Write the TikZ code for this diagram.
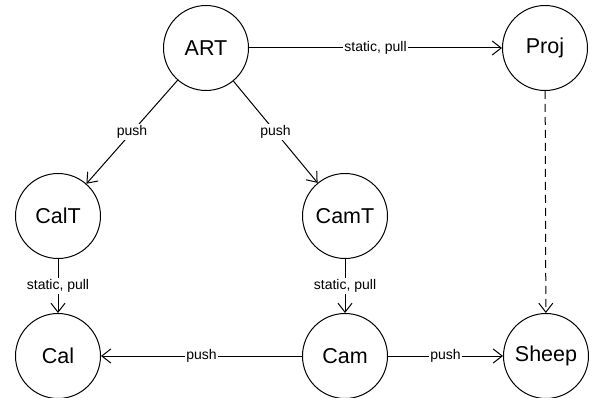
\documentclass[tikz,border=0pt]{standalone}
\usepackage{fontspec}
\setmainfont{Liberation Sans}
\usetikzlibrary{arrows.meta}
\begin{document}
\begin{tikzpicture}[x=1pt,y=-1pt,
  state/.style={circle,draw,line width=1pt,minimum size=85pt,inner sep=0pt,font=\fontsize{21.5}{24}\selectfont},
  conn/.style={line width=1pt,-{Straight Barb[length=9pt,width=14pt,line width=1pt]}},
  lbl/.style={fill=white,inner sep=1pt,font=\fontsize{14}{16}\selectfont}]
\useasboundingbox (0,0) rectangle (594,398);
\node[state] (ART) at (206,48) {ART};
\node[state] (Proj) at (545,48) {Proj};
\node[state] (CalT) at (58,216) {CalT};
\node[state] (CamT) at (345,216) {CamT};
\node[state] (Cal) at (58,356) {Cal};
\node[state] (Cam) at (345,356) {Cam};
\node[state] (Sheep) at (546,356) {Sheep};
\draw[conn] (ART) -- node[lbl] {static, pull} (Proj);
\draw[conn] (ART) -- node[lbl] {push} (CalT);
\draw[conn] (ART) -- node[lbl] {push} (CamT);
\draw[conn] (CalT) -- node[lbl] {static, pull} (Cal);
\draw[conn] (CamT) -- node[lbl] {static, pull} (Cam);
\draw[conn] (Cam) -- node[lbl] {push} (Cal);
\draw[conn] (Cam) -- node[lbl] {push} (Sheep);
\draw[conn,dashed,dash pattern=on 8pt off 5pt] (Proj) -- (Sheep);
\end{tikzpicture}
\end{document}
